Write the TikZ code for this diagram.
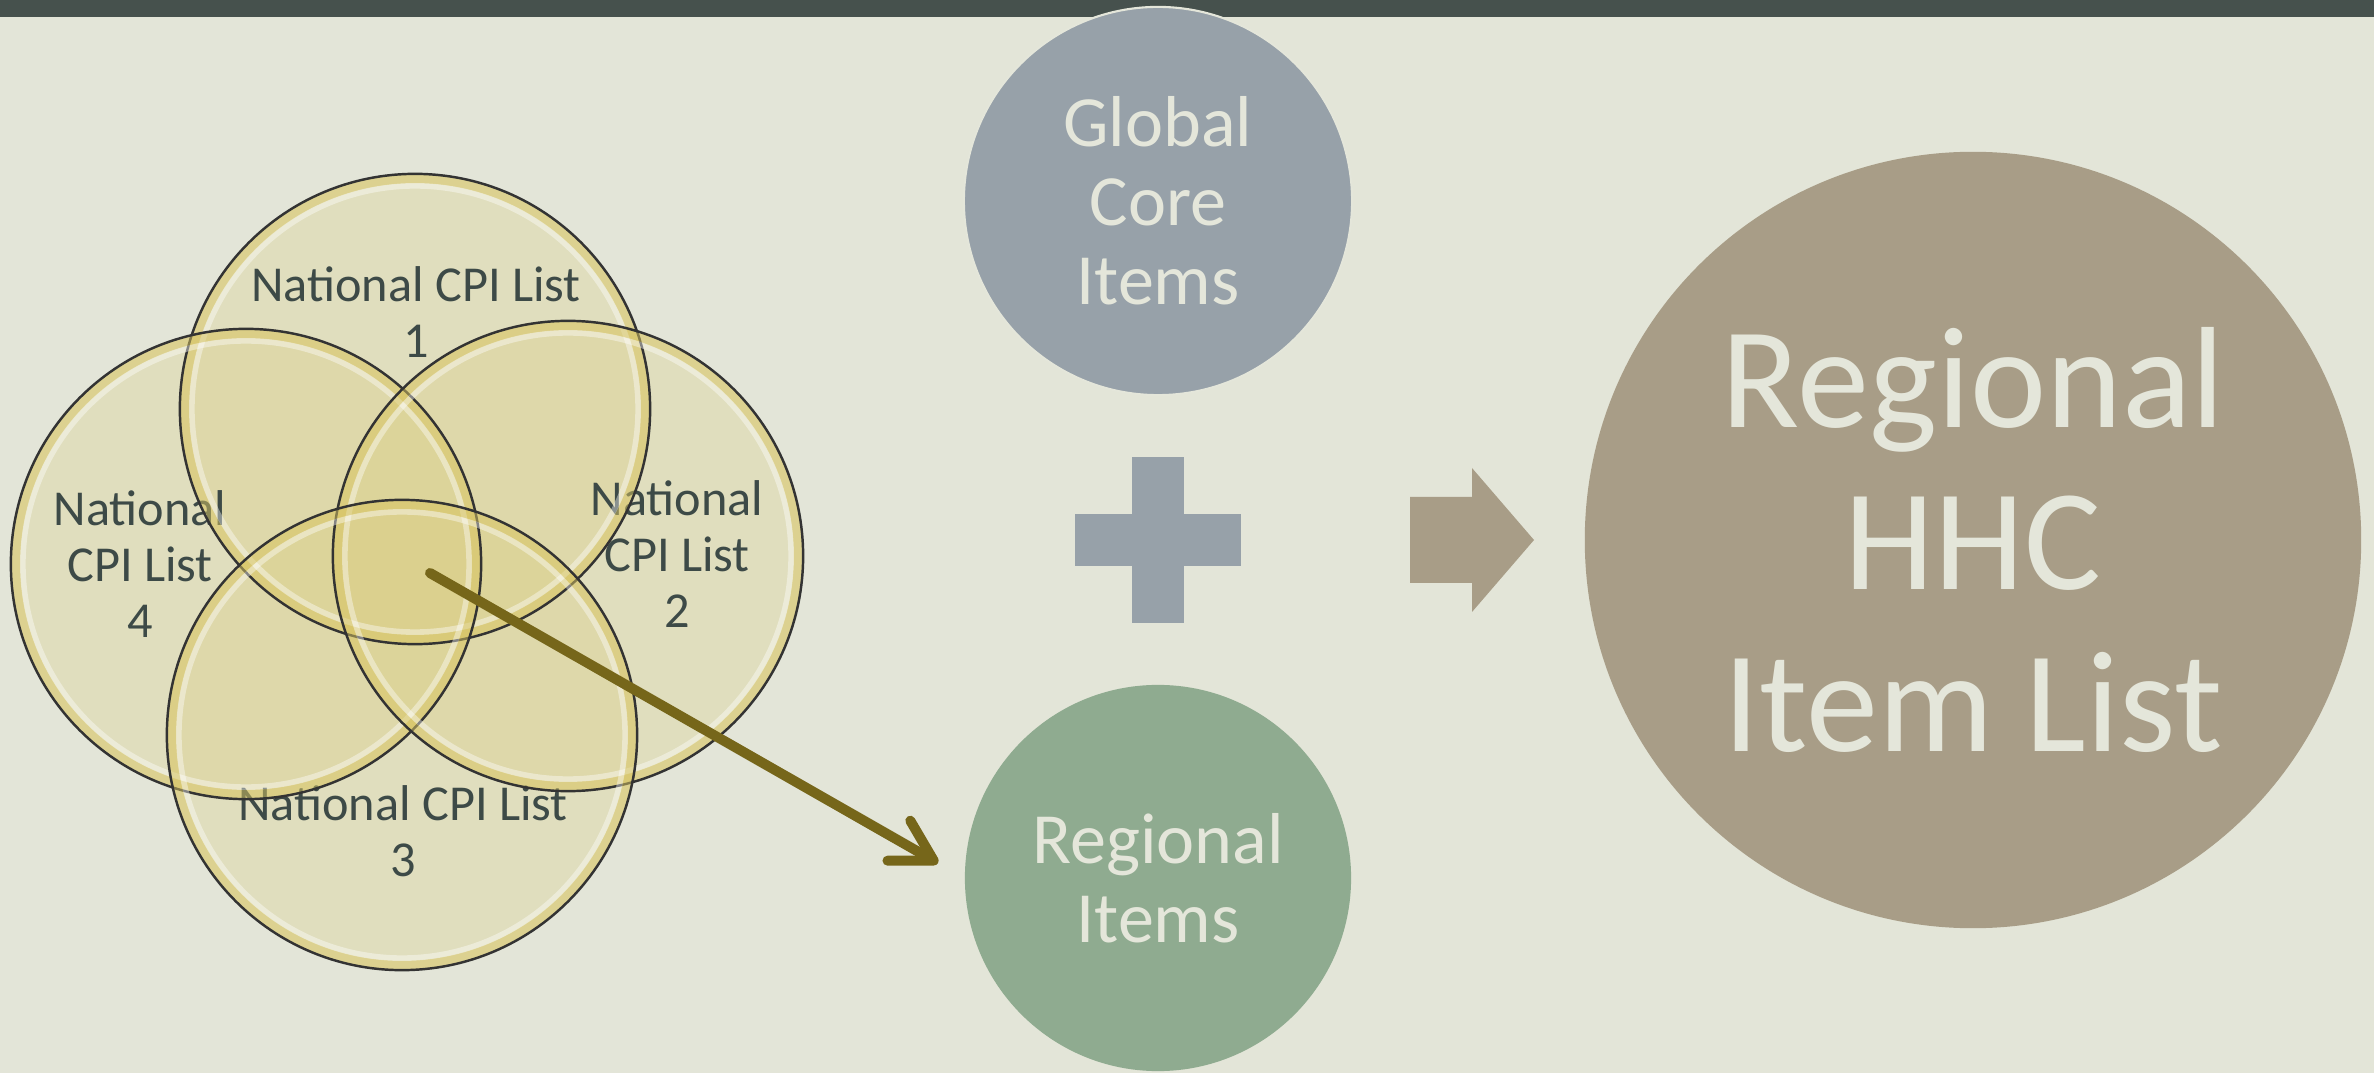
\documentclass[tikz,border=0pt]{standalone}
\usepackage{fontspec}
\setmainfont{Carlito}
\usetikzlibrary{arrows.meta}

\definecolor{bgcream}{HTML}{E3E5D8}
\definecolor{bandslate}{HTML}{46514D}
\definecolor{venngold}{HTML}{D9C664}
\definecolor{vennink}{HTML}{3D4A47}
\definecolor{coregray}{HTML}{97A1A9}
\definecolor{itemgreen}{HTML}{8FAB90}
\definecolor{hhctaupe}{HTML}{A89D87}
\definecolor{arrowolive}{HTML}{76661A}
\definecolor{paletext}{HTML}{E4E6DA}

\tikzset{
  vennball/.style={circle, minimum size=4.7cm, inner sep=0pt, fill=venngold, fill opacity=0.22},
  vennedge/.style={circle, minimum size=4.7cm, inner sep=0pt, draw=black!80, line width=0.7pt},
  vennrim/.style={circle, minimum size=4.6cm, inner sep=0pt, draw=venngold, draw opacity=0.5, line width=2.5pt},
  vennglow/.style={circle, minimum size=4.46cm, inner sep=0pt, draw=white, draw opacity=0.4, line width=1.6pt},
  vennlabel/.style={text=vennink, align=center, font=\fontsize{14.3}{15.9}\selectfont},
  bigdot/.style={circle, inner sep=0pt, text=paletext, align=center},
  olivearrow/.style={draw=arrowolive, line width=0.1cm, line cap=round,
    -{Straight Barb[length=0.4cm, width=0.46cm, round]}}
}

\begin{document}
\begin{tikzpicture}[x=0.01cm, y=-0.01cm]
	\useasboundingbox (0,0) rectangle (2374,1073);
	\fill[bgcream] (0,0) rectangle (2374,1073);
	\fill[bandslate] (0,0) rectangle (2374,17);

	% national lists
	\node[vennball] (list1) at (415,409) {};
	\node[vennball] (list4) at (246,564) {};
	\node[vennball] (list2) at (568,556) {};
	\node[vennball] (list3) at (402,735) {};

	\node[vennlabel] (lbl1) at (416,312) {National CPI List\\1};
	\node[vennlabel] (lbl2) at (677,554) {National\\CPI List\\2};
	\node[vennlabel] (lbl3) at (403,831) {National CPI List\\3};
	\node[vennlabel] (lbl4) at (140,564) {National\\CPI List\\4};

	\foreach \n in {list1,list4,list2,list3} {
		\node[vennrim] at (\n) {};
		\node[vennglow] at (\n) {};
		\node[vennedge] at (\n) {};
	}

	\coordinate (core) at (430,573);
	\coordinate (tip) at (938,863);
	\draw[olivearrow] (core) -- (tip);

	% item circles
	\node[bigdot, fill=coregray, draw=paletext, line width=0.6pt, minimum size=3.88cm,
		font=\fontsize{20.5}{22.5}\selectfont] (global) at (1158,201) {Global\\Core\\Items};
	\node[bigdot, fill=itemgreen, minimum size=3.86cm,
		font=\fontsize{20.5}{22.5}\selectfont] (items) at (1158,878) {Regional\\Items};
	\node[bigdot, fill=hhctaupe, minimum size=7.76cm,
		font=\fontsize{41}{46}\selectfont] (hhc) at (1973,540) {Regional\\HHC\\Item List};

	% plus and arrow
	\fill[coregray] (1075,514) rectangle (1241,566);
	\fill[coregray] (1132,457) rectangle (1184,623);
	\fill[hhctaupe] (1410,497) -- (1472,497) -- (1472,468) -- (1534,540)
		-- (1472,612) -- (1472,583) -- (1410,583) -- cycle;
\end{tikzpicture}
\end{document}
